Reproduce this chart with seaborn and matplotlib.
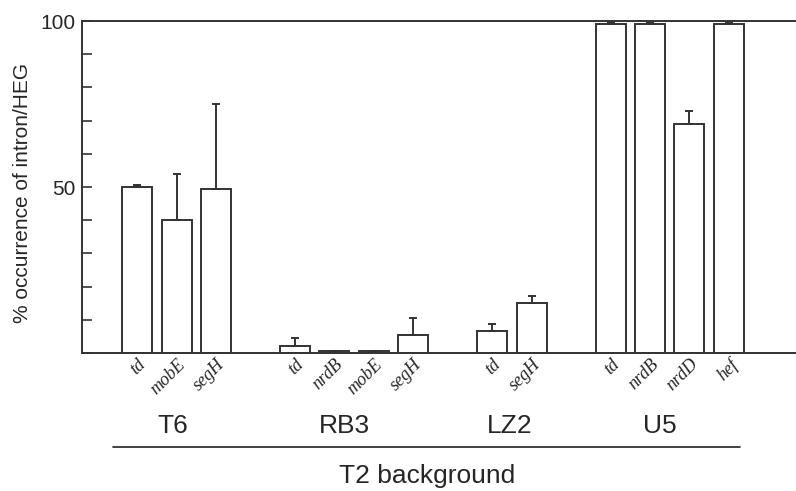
import numpy as np
import matplotlib
matplotlib.use('Agg')
import matplotlib.pyplot as plt
import seaborn as sns

# data
genes = ['td', 'mobE', 'segH', 'td', 'nrdB', 'mobE', 'segH', 'td', 'segH', 'td', 'nrdB', 'nrdD', 'hef']
slots = [0, 1, 2, 4, 5, 6, 7, 9, 10, 12, 13, 14, 15]
values = [50, 40, 49.5, 2, 0.5, 0.5, 5.5, 6.5, 15, 99, 99, 69, 99]
errors = [0.7, 14, 25.5, 2.5, 0, 0, 5, 2.2, 2.2, 0.5, 0.5, 4, 0.5]
groups = ['T6', 'RB3', 'LZ2', 'U5']
group_centers = [0.9, 5.25, 9.45, 13.25]

sns.set_style('ticks')
plt.rcParams['font.family'] = ['Liberation Sans', 'DejaVu Sans']

fig = plt.figure(figsize=(7.96, 4.91), dpi=100)
ax = fig.add_axes([0.103, 0.281, 0.897, 0.676])

sns.barplot(x=slots, y=values, native_scale=True, width=0.76, color='white',
            edgecolor='#333333', linewidth=1.4, ax=ax)
ax.errorbar(slots, values, yerr=[np.zeros(len(errors)), errors], fmt='none',
            ecolor='#333333', elinewidth=1.4, capsize=3, capthick=1.4)

ax.set_xlim(-1.4, 16.7)
ax.set_ylim(0, 100)
ax.set_yticks(range(0, 101, 10))
ax.set_yticklabels(['' if t not in (50, 100) else str(t) for t in range(0, 101, 10)], fontsize=15)
ax.tick_params(axis='y', direction='in', length=7, width=1.2, color='#333333', pad=5)
ax.set_ylabel('% occurrence of intron/HEG', fontsize=15)
ax.yaxis.set_label_coords(-0.07, 0.482)

ax.set_xticks(slots)
ax.set_xticklabels(genes, rotation=45, ha='right', rotation_mode='anchor',
                   family=['Liberation Serif'], style='italic', fontsize=13)
ax.tick_params(axis='x', length=0, pad=2)
ax.set_xlabel('')

for s in ['left', 'top', 'bottom']:
    ax.spines[s].set_linewidth(1.4)
    ax.spines[s].set_color('#333333')
ax.spines['right'].set_visible(False)

tr = ax.get_xaxis_transform()
for g, c in zip(groups, group_centers):
    ax.text(c, -0.22, g, transform=tr, ha='center', va='center', fontsize=19)
ax.plot([-0.61, 15.29], [-0.283, -0.283], transform=tr, color='#222222', lw=1.2, clip_on=False)
ax.text(7.34, -0.37, 'T2 background', transform=tr, ha='center', va='center', fontsize=19)

fig.savefig('out.png', dpi=100)
